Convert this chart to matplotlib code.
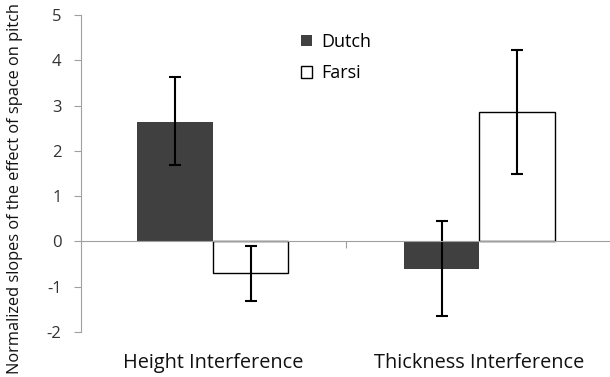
import numpy as np
import matplotlib.pyplot as plt

categories = ['Height Interference', 'Thickness Interference']
dutch = [2.64, -0.60]
dutch_lo = [1.68, -1.64]
dutch_hi = [3.64, 0.46]
farsi = [-0.70, 2.86]
farsi_lo = [-1.32, 1.49]
farsi_hi = [-0.10, 4.22]

plt.rcParams['font.family'] = ['Open Sans', 'DejaVu Sans']
plt.rcParams['axes.unicode_minus'] = False

fig = plt.figure(figsize=(6.1, 3.77), dpi=100)
ax = fig.add_axes([81 / 610, 1 - 332 / 377, 529 / 610, 317 / 377])

x = np.arange(len(categories))
w = 0.283

dutch = np.array(dutch)
farsi = np.array(farsi)
d_err = [dutch - np.array(dutch_lo), np.array(dutch_hi) - dutch]
f_err = [farsi - np.array(farsi_lo), np.array(farsi_hi) - farsi]

ekw = dict(ecolor='black', elinewidth=1.5, capsize=4, capthick=1.5)
ax.bar(x - w / 2, dutch, w, color='#404040', label='Dutch',
       yerr=d_err, error_kw=ekw, zorder=2)
ax.bar(x + w / 2, farsi, w, color='white', edgecolor='black', linewidth=1,
       label='Farsi', yerr=f_err, error_kw=ekw, zorder=2)

ax.set_xlim(-0.495, 1.49)
ax.set_ylim(-2, 5)
ax.set_yticks(range(-2, 6))

for s in ['top', 'right']:
    ax.spines[s].set_visible(False)
ax.spines['left'].set_color('#a0a0a0')
ax.spines['bottom'].set_color('#a0a0a0')
ax.spines['bottom'].set_position(('data', 0))
ax.spines['bottom'].set_zorder(3)

ax.tick_params(axis='y', colors='#a0a0a0', labelcolor='#333333',
               labelsize=12, length=5, pad=9)
ax.set_xticks([0.5])
ax.set_xticklabels([''])
ax.tick_params(axis='x', colors='#a0a0a0', length=5)

for xi, name in zip(x, categories):
    ax.text(xi, -2.68, name, ha='center', va='center', fontsize=14.3,
            color='#111111')

fig.text(15 / 610, 1 - 188 / 377,
         'Normalized slopes of the effect of space on pitch',
         rotation=90, ha='center', va='center', fontsize=11.8,
         color='#111111')

ax.legend(loc='upper left', bbox_to_anchor=(0.385, 0.995), frameon=False,
          fontsize=13, handlelength=0.6, handleheight=0.6,
          labelspacing=0.75, handletextpad=0.55)

fig.savefig('out.png', dpi=100)
